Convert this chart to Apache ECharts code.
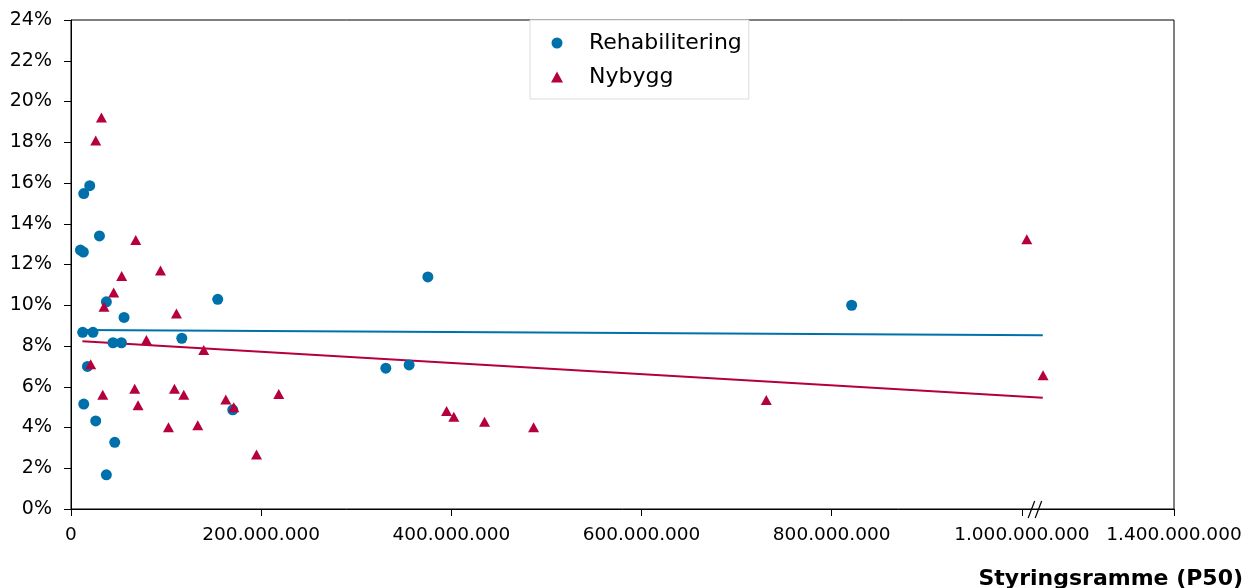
<!DOCTYPE html>
<html>
<head>
<meta charset="utf-8">
<script src="https://cdn.jsdelivr.net/npm/echarts@6.0.0/dist/echarts.min.js"></script>
<style>
html,body{margin:0;padding:0;background:#fff;}
#chart{width:1246px;height:588px;}
</style>
</head>
<body>
<div id="chart"></div>
<script>
// ---- data (x in kroner, y in percent) ----
const seriesNames = ['Rehabilitering', 'Nybygg'];
const rehabX = [9.9e6, 13.0e6, 13.4e6, 19.7e6, 29.9e6, 12.3e6, 23.1e6, 37.2e6, 55.8e6, 44.2e6, 53.0e6, 17.3e6, 13.4e6, 26.0e6, 46.0e6, 37.2e6, 116.5e6, 154.3e6, 170.1e6, 331.1e6, 355.6e6, 375.3e6, 821.0e6];
const rehabY = [12.71, 12.61, 15.48, 15.87, 13.40, 8.67, 8.67, 10.17, 9.40, 8.16, 8.16, 7.00, 5.15, 4.32, 3.27, 1.68, 8.38, 10.29, 4.87, 6.91, 7.07, 11.39, 10.00];
const nybyggX = [32.0e6, 26.0e6, 68.1e6, 53.3e6, 94.1e6, 44.9e6, 34.7e6, 110.9e6, 79.3e6, 139.6e6, 20.7e6, 67.0e6, 108.8e6, 118.6e6, 33.4e6, 70.5e6, 162.8e6, 171.2e6, 102.5e6, 133.3e6, 195.1e6, 218.5e6, 395.0e6, 402.6e6, 434.9e6, 486.5e6, 731.2e6, 1005.2e6, 1022.3e6];
const nybyggY = [19.22, 18.08, 13.20, 11.44, 11.70, 10.62, 9.93, 9.59, 8.29, 7.80, 7.10, 5.90, 5.90, 5.61, 5.61, 5.09, 5.38, 4.99, 4.01, 4.11, 2.67, 5.64, 4.81, 4.53, 4.28, 4.01, 5.35, 13.24, 6.56];
// trend lines (end points)
const rehabTrendX = [12e6, 1022e6];
const rehabTrendY = [8.79, 8.53];
const nybyggTrendX = [12e6, 1022e6];
const nybyggTrendY = [8.23, 5.46];
// axes
const xMin = 0, xMax = 1160e6, xStep = 200e6;
const xEndLabel = '1.400.000.000';
const xBreakAt = 1014e6;
const yMin = 0, yMax = 24, yStep = 2;
const xTitle = 'Styringsramme (P50)';

const BLUE = '#0070AA';
const RED = '#B5003D';
const FONT = 'DejaVu Sans';

function zip(xs, ys) { return xs.map((x, i) => [x, ys[i]]); }
function fmtThousands(v) {
  return String(Math.round(v)).replace(/\B(?=(\d{3})+(?!\d))/g, '.');
}

const chart = echarts.init(document.getElementById('chart'), null, {renderer: 'canvas'});
const option = {
  animation: false,
  backgroundColor: '#fff',
  textStyle: {fontFamily: FONT},
  title: {
    text: xTitle,
    right: 3, top: 568, padding: 0,
    textStyle: {fontFamily: FONT, fontSize: 22, fontWeight: 'bold', color: '#000'}
  },
  grid: {left: 71, right: 72, top: 20, bottom: 79, show: true, borderColor: '#000', borderWidth: 1, backgroundColor: 'transparent'},
  legend: {
    data: seriesNames,
    orient: 'vertical',
    left: 530, top: 20,
    padding: [12, 7, 11, 21],
    itemWidth: 12, itemHeight: 11, itemGap: 12,
    backgroundColor: '#fff',
    borderColor: '#dcdcdc', borderWidth: 1,
    textStyle: {fontFamily: FONT, fontSize: 22, lineHeight: 22, color: '#000', padding: [0, 0, 0, 21]}
  },
  xAxis: {
    type: 'value', min: xMin, max: xMax, interval: xStep,
    splitLine: {show: false},
    axisLine: {show: true, lineStyle: {color: '#000', width: 1}},
    axisTick: {show: true, inside: false, length: 7, lineStyle: {color: '#000'}},
    axisLabel: {
      show: true, margin: 17, color: '#000', fontFamily: FONT, fontSize: 18.5,
      showMinLabel: true, showMaxLabel: true, hideOverlap: false,
      formatter: function (v) { return v >= xMax ? xEndLabel : fmtThousands(v); }
    }
  },
  yAxis: {
    type: 'value', min: yMin, max: yMax, interval: yStep,
    splitLine: {show: false},
    axisLine: {show: true, lineStyle: {color: '#000', width: 1}},
    axisTick: {show: true, inside: false, length: 7, lineStyle: {color: '#000'}},
    axisLabel: {margin: 19, color: '#000', fontFamily: FONT, fontSize: 19, formatter: '{value}%'}
  },
  series: [
    {
      name: 'Trend Rehabilitering', type: 'line', data: zip(rehabTrendX, rehabTrendY),
      showSymbol: false, symbol: 'none', z: 1,
      lineStyle: {color: BLUE, width: 2}, itemStyle: {color: BLUE}
    },
    {
      name: 'Trend Nybygg', type: 'line', data: zip(nybyggTrendX, nybyggTrendY),
      showSymbol: false, symbol: 'none', z: 1,
      lineStyle: {color: RED, width: 2}, itemStyle: {color: RED}
    },
    {
      name: seriesNames[0], type: 'scatter', data: zip(rehabX, rehabY),
      symbol: 'circle', symbolSize: 11, z: 3,
      itemStyle: {color: BLUE, opacity: 1}
    },
    {
      name: seriesNames[1], type: 'scatter', data: zip(nybyggX, nybyggY),
      symbol: 'triangle', symbolSize: [11, 10], z: 3,
      itemStyle: {color: RED, opacity: 1}
    }
  ]
};
chart.setOption(option);

// axis-break mark "//" on the x axis, placed through the axis scales
const bx = chart.convertToPixel({xAxisIndex: 0}, xBreakAt);
const by = chart.convertToPixel({yAxisIndex: 0}, 0);
chart.setOption({
  graphic: [
    {type: 'line', shape: {x1: bx - 7, y1: by + 9, x2: bx - 0.5, y2: by - 8}, style: {stroke: '#000', lineWidth: 1.2}, z: 10},
    {type: 'line', shape: {x1: bx, y1: by + 9, x2: bx + 6.5, y2: by - 8}, style: {stroke: '#000', lineWidth: 1.2}, z: 10}
  ]
});
</script>
</body>
</html>
